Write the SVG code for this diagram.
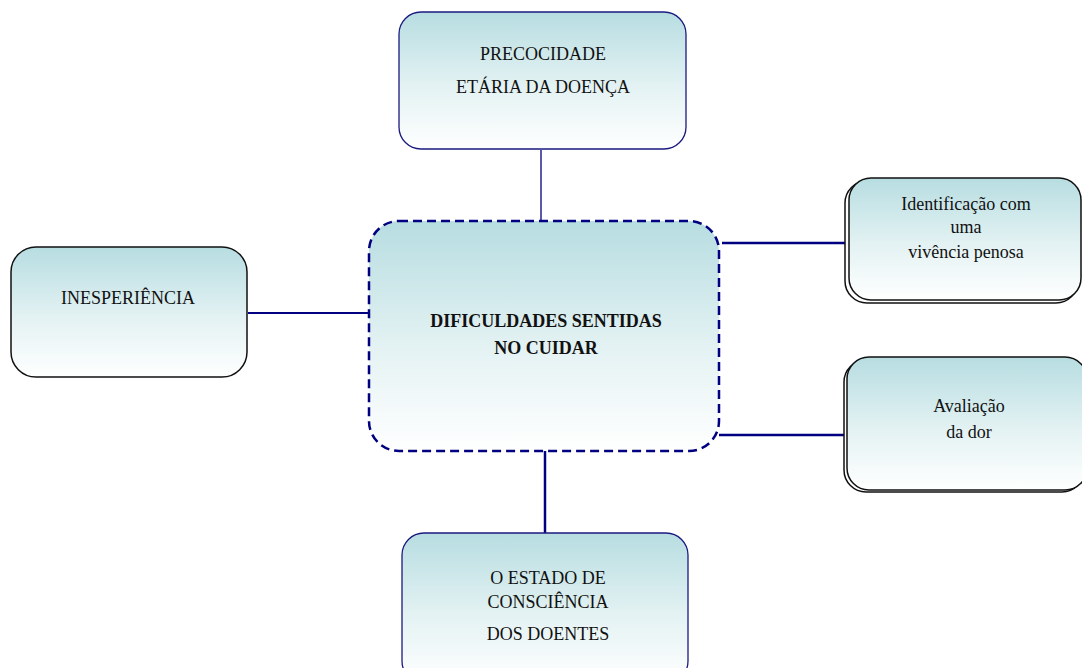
<svg xmlns="http://www.w3.org/2000/svg" width="1082" height="668" viewBox="0 0 1082 668">
  <defs>
    <linearGradient id="fill" x1="0" y1="0" x2="0" y2="1">
      <stop offset="0" stop-color="#b7dde1"/>
      <stop offset="0.55" stop-color="#e4f2f3"/>
      <stop offset="1" stop-color="#ffffff"/>
    </linearGradient>
    <style>
      .box { fill: url(#fill); }
      .blue { stroke: #1a1a80; stroke-width: 1.3; }
      .dark { stroke: #111111; stroke-width: 1.5; }
      .shadow { fill: #ffffff; stroke: #111111; stroke-width: 1.5; }
      .core { stroke: #000080; stroke-width: 2.5; stroke-dasharray: 9 5; }
      .t { fill: #111111; text-anchor: middle; font-size: 18px; }
      .b { font-weight: bold; }
      .wire { stroke: #000080; fill: none; }
    </style>
  </defs>

  <g id="connectors">
    <line class="wire" x1="541" y1="150" x2="541" y2="221" stroke-width="1.3"/>
    <line class="wire" x1="248" y1="313" x2="368" y2="313" stroke-width="2"/>
    <line class="wire" x1="722" y1="243" x2="848" y2="243" stroke-width="2.5"/>
    <line class="wire" x1="719" y1="435" x2="846" y2="435" stroke-width="2.5"/>
    <line class="wire" x1="545" y1="451" x2="545" y2="533" stroke-width="2.5"/>
  </g>

  <g font-family="'Liberation Serif', 'Times New Roman', Times, serif">
  <g id="node-precocidade">
    <rect class="box blue" x="399" y="12" width="287" height="137" rx="22"/>
    <text class="t" x="543" y="60">PRECOCIDADE</text>
    <text class="t" x="543" y="93">ETÁRIA DA DOENÇA</text>
  </g>

  <g id="node-dificuldades">
    <rect class="box core" x="369" y="221" width="350" height="230" rx="30"/>
    <text class="t b" x="546" y="327">DIFICULDADES SENTIDAS</text>
    <text class="t b" x="546" y="354">NO CUIDAR</text>
  </g>

  <g id="node-inesperiencia">
    <rect class="box dark" x="11" y="247" width="236" height="130" rx="25"/>
    <text class="t" x="128" y="304">INESPERIÊNCIA</text>
  </g>

  <g id="node-identificacao">
    <rect class="shadow" x="845" y="181" width="233" height="122" rx="22"/>
    <rect class="box dark" x="849" y="178" width="232" height="122" rx="22"/>
    <text class="t" x="966" y="210">Identificação com</text>
    <text class="t" x="966" y="233">uma</text>
    <text class="t" x="966" y="258">vivência penosa</text>
  </g>

  <g id="node-avaliacao">
    <rect class="shadow" x="844" y="360" width="240" height="132" rx="22"/>
    <rect class="box dark" x="847" y="357" width="240" height="133" rx="22"/>
    <text class="t" x="969" y="412">Avaliação</text>
    <text class="t" x="969" y="438">da dor</text>
  </g>

  <g id="node-estado">
    <rect class="box blue" x="402" y="533" width="286" height="150" rx="22"/>
    <text class="t" x="548" y="584">O ESTADO DE</text>
    <text class="t" x="548" y="608">CONSCIÊNCIA</text>
    <text class="t" x="548" y="640">DOS DOENTES</text>
  </g>
  </g>
</svg>
